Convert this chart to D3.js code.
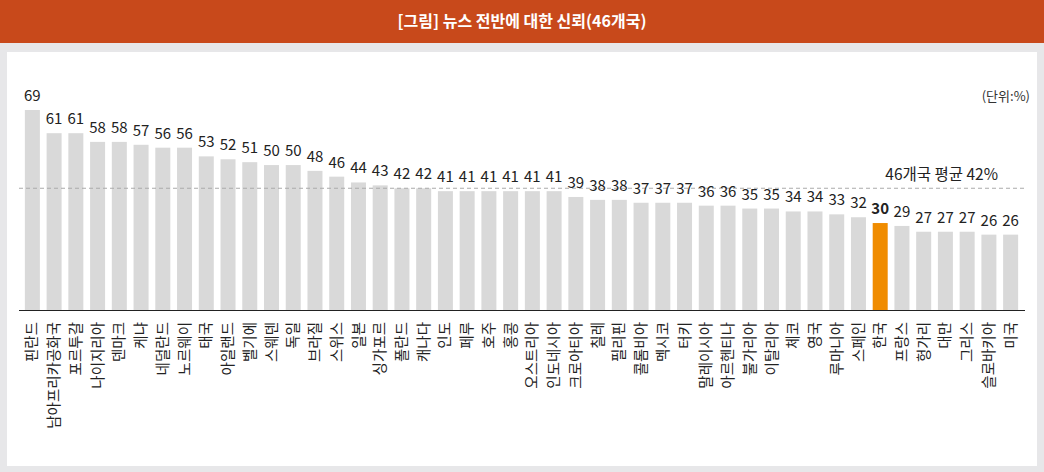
<!DOCTYPE html>
<html>
<head>
<meta charset="utf-8">
<script src="https://cdn.jsdelivr.net/npm/d3@7"></script>
<style>
  body { margin: 0; background: #e7e7e9; }
  svg { display: block; }
  text { font-family: "Noto Sans CJK KR", "Noto Sans", sans-serif; }
</style>
</head>
<body>
<svg id="chart" width="1044" height="472"></svg>
<script>
// country names, left to right
var countries = ["핀란드", "남아프리카공화국", "포르투갈", "나이지리아", "덴마크", "케냐", "네덜란드", "노르웨이",
    "태국", "아일랜드", "벨기에", "스웨덴", "독일", "브라질", "스위스", "일본", "싱가포르", "폴란드", "캐나다",
    "인도", "페루", "호주", "홍콩", "오스트리아", "인도네시아", "크로아티아", "칠레", "필리핀", "콜롬비아",
    "멕시코", "터키", "말레이시아", "아르헨티나", "불가리아", "이탈리아", "체코", "영국", "루마니아", "스페인",
    "한국", "프랑스", "헝가리", "대만", "그리스", "슬로바키아", "미국"];
// trust in news overall (%)
var trust = [69, 61, 61, 58, 58, 57, 56, 56, 53, 52, 51, 50, 50, 48, 46, 44, 43, 42, 42,
    41, 41, 41, 41, 41, 41, 39, 38, 38, 37, 37, 37, 36, 36, 35, 35, 34, 34, 33, 32,
    30, 29, 27, 27, 27, 26, 26];
var average = 42;
var highlight = "한국";

var svg = d3.select("#chart");

// header bar
svg.append("rect").attr("x", 0).attr("y", 0).attr("width", 1044).attr("height", 43).attr("fill", "#c8491b");
svg.append("text")
    .attr("x", 522).attr("y", 27)
    .attr("text-anchor", "middle")
    .attr("fill", "#fff")
    .attr("font-size", 16)
    .attr("font-weight", 700)
    .text("[그림] 뉴스 전반에 대한 신뢰(46개국)");

// white panel
svg.append("rect").attr("x", 7).attr("y", 52).attr("width", 1030).attr("height", 414).attr("fill", "#fff");

var x = d3.scaleBand()
    .domain(countries)
    .range([21.5, 1021.5])
    .paddingInner(0.31)
    .paddingOuter(0.155);

var y = d3.scaleLinear()
    .domain([0, 69])
    .range([310, 110]);

var data = countries.map((c, i) => ({ name: c, value: trust[i] }));

// bars
svg.append("g").selectAll("rect")
    .data(data)
    .join("rect")
    .attr("x", d => x(d.name))
    .attr("y", d => y(d.value))
    .attr("width", x.bandwidth())
    .attr("height", d => y(0) - y(d.value))
    .attr("fill", d => d.name == highlight ? "#f08c00" : "#d9d9d9");

// average line
svg.append("line")
    .attr("x1", 19).attr("x2", 1027)
    .attr("y1", y(average)).attr("y2", y(average))
    .attr("stroke", "#aaa")
    .attr("stroke-dasharray", "4,3");

svg.append("text")
    .attr("x", 998).attr("y", y(average) - 8)
    .attr("text-anchor", "end")
    .attr("font-size", 15.5)
    .attr("fill", "#222")
    .text("46개국 평균 " + average + "%");

// value labels
svg.append("g").selectAll("text")
    .data(data)
    .join("text")
    .attr("x", d => x(d.name) + x.bandwidth() / 2)
    .attr("y", d => y(d.value) - 9)
    .attr("text-anchor", "middle")
    .attr("font-family", "'Noto Sans', sans-serif")
    .attr("font-size", 15)
    .attr("font-weight", d => d.name == highlight ? 700 : 400)
    .attr("fill", "#222")
    .text(d => d.value);

// x axis with rotated country names
var xAxis = svg.append("g")
    .attr("transform", "translate(0,310)")
    .call(d3.axisBottom(x).tickSize(0).tickSizeOuter(0));
xAxis.select(".domain")
    .attr("d", "M19,0.5H1025")
    .attr("stroke", "#222");
xAxis.selectAll(".tick text")
    .attr("font-family", "'Noto Sans CJK KR', sans-serif")
    .attr("font-size", 14.5)
    .attr("fill", "#222")
    .attr("text-anchor", "end")
    .attr("transform", "rotate(-90)")
    .attr("x", -12)
    .attr("y", 0)
    .attr("dy", "0.35em");

// unit
svg.append("text")
    .attr("x", 1030).attr("y", 101)
    .attr("text-anchor", "end")
    .attr("font-size", 13)
    .attr("fill", "#333")
    .text("(단위:%)");
</script>
</body>
</html>
